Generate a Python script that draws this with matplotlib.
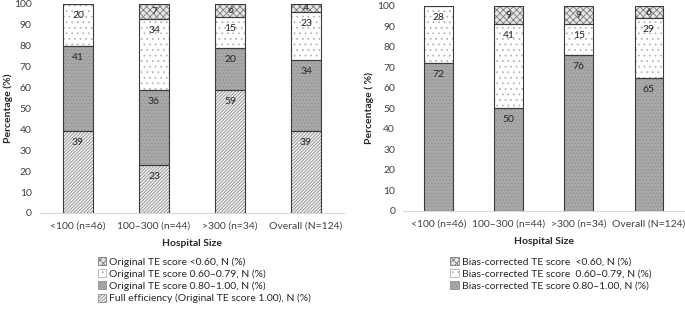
import matplotlib
matplotlib.use("Agg")
import matplotlib.pyplot as plt
from matplotlib.patches import Patch
import numpy as np

plt.rcParams['font.family'] = ['Lato', 'DejaVu Sans']
plt.rcParams['hatch.linewidth'] = 0.6

# data
sizes = ['<100 (n=46)', '100\u2013300 (n=44)', '>300 (n=34)', 'Overall (N=124)']
orig_full = [39, 23, 59, 39]
orig_hi = [41, 36, 20, 34]
orig_mid = [20, 34, 15, 23]
orig_low = [0, 7, 6, 4]

bc_hi = [72, 50, 76, 65]
bc_mid = [28, 41, 15, 29]
bc_low = [0, 9, 9, 6]

orig_names = ['Original TE score <0.60, N (%)',
              'Original TE score 0.60\u20130.79, N (%)',
              'Original TE score 0.80\u20131.00, N (%)',
              'Full efficiency (Original TE score 1.00), N (%)']
bc_names = ['Bias-corrected TE score  <0.60, N (%)',
            'Bias-corrected TE score  0.60\u20130.79, N (%)',
            'Bias-corrected TE score 0.80\u20131.00, N (%)']

# styles: (face, hatch, hatch colour)
st_full = ('#f2f2f2', '//////////', '#8c8c8c')
st_hi = ('#a9a9a9', '.....', '#8f8f8f')
st_mid = ('#ffffff', '...', '#b5b5b5')
st_low = ('#e6e6e6', 'xxxxx', '#7a7a7a')
edge = '#3a3a3a'


def stack(ax, series, styles, width):
    x = np.arange(len(sizes))
    bottom = np.zeros(len(sizes))
    for vals, (fc, h, hc) in zip(series, styles):
        vals = np.array(vals, dtype=float)
        ax.bar(x, vals, width, bottom=bottom, color=fc, hatch=h,
               edgecolor=hc, linewidth=0, zorder=2)
        ax.bar(x, vals, width, bottom=bottom, fill=False,
               edgecolor=edge, linewidth=0.8, zorder=3)
        for xi, b, v in zip(x, bottom, vals):
            if v <= 0:
                continue
            y = b + v - min(5.5, v / 2)
            ax.text(xi, y, f'{int(v)}', ha='center', va='center',
                    fontsize=7.5, color='#262626', zorder=4)
        bottom += vals


def style(ax, ylab):
    ax.set_xlim(-0.5, 3.5)
    ax.set_ylim(0, 100)
    ax.set_yticks(range(0, 101, 10))
    ax.set_xticks(range(len(sizes)))
    ax.set_xticklabels(sizes)
    for s in ['top', 'right', 'left']:
        ax.spines[s].set_visible(False)
    ax.spines['bottom'].set_color('#d9d9d9')
    ax.tick_params(length=0, labelsize=7.5, colors='#404040', pad=6)
    ax.set_ylabel(ylab, fontsize=7.5, fontweight='bold', color='#262626')
    ax.set_xlabel('Hospital Size', fontsize=7.5, fontweight='bold',
                  color='#262626', labelpad=6)


fig = plt.figure(figsize=(6.85, 3.09), dpi=100)

ax1 = fig.add_axes([0.0584, 0.3107, 0.4438, 0.6764])
stack(ax1, [orig_full, orig_hi, orig_mid, orig_low],
      [st_full, st_hi, st_mid, st_low], 0.39)
style(ax1, 'Percentage (%)')
ax1.yaxis.set_label_coords(-0.09, 0.5)

ax2 = fig.add_axes([0.589, 0.3172, 0.4095, 0.6634])
stack(ax2, [bc_hi, bc_mid, bc_low], [st_hi, st_mid, st_low], 0.41)
style(ax2, 'Percentage ( %)')
ax2.yaxis.set_label_coords(-0.105, 0.5)


def handles(styles):
    return [Patch(facecolor=fc, hatch=h, edgecolor=hc, linewidth=0.6)
            for fc, h, hc in styles]


leg_kw = dict(frameon=False, fontsize=7.5, handlelength=0.8, handleheight=0.8,
              handletextpad=0.3, labelspacing=0.25, borderpad=0,
              labelcolor='#262626')
fig.legend(handles([st_low, st_mid, st_hi, st_full]), orig_names,
           loc='upper left', bbox_to_anchor=(0.135, 0.185), **leg_kw)
fig.legend(handles([st_low, st_mid, st_hi]), bc_names,
           loc='upper left', bbox_to_anchor=(0.65, 0.185), **leg_kw)

fig.savefig('out.png', dpi=100)
